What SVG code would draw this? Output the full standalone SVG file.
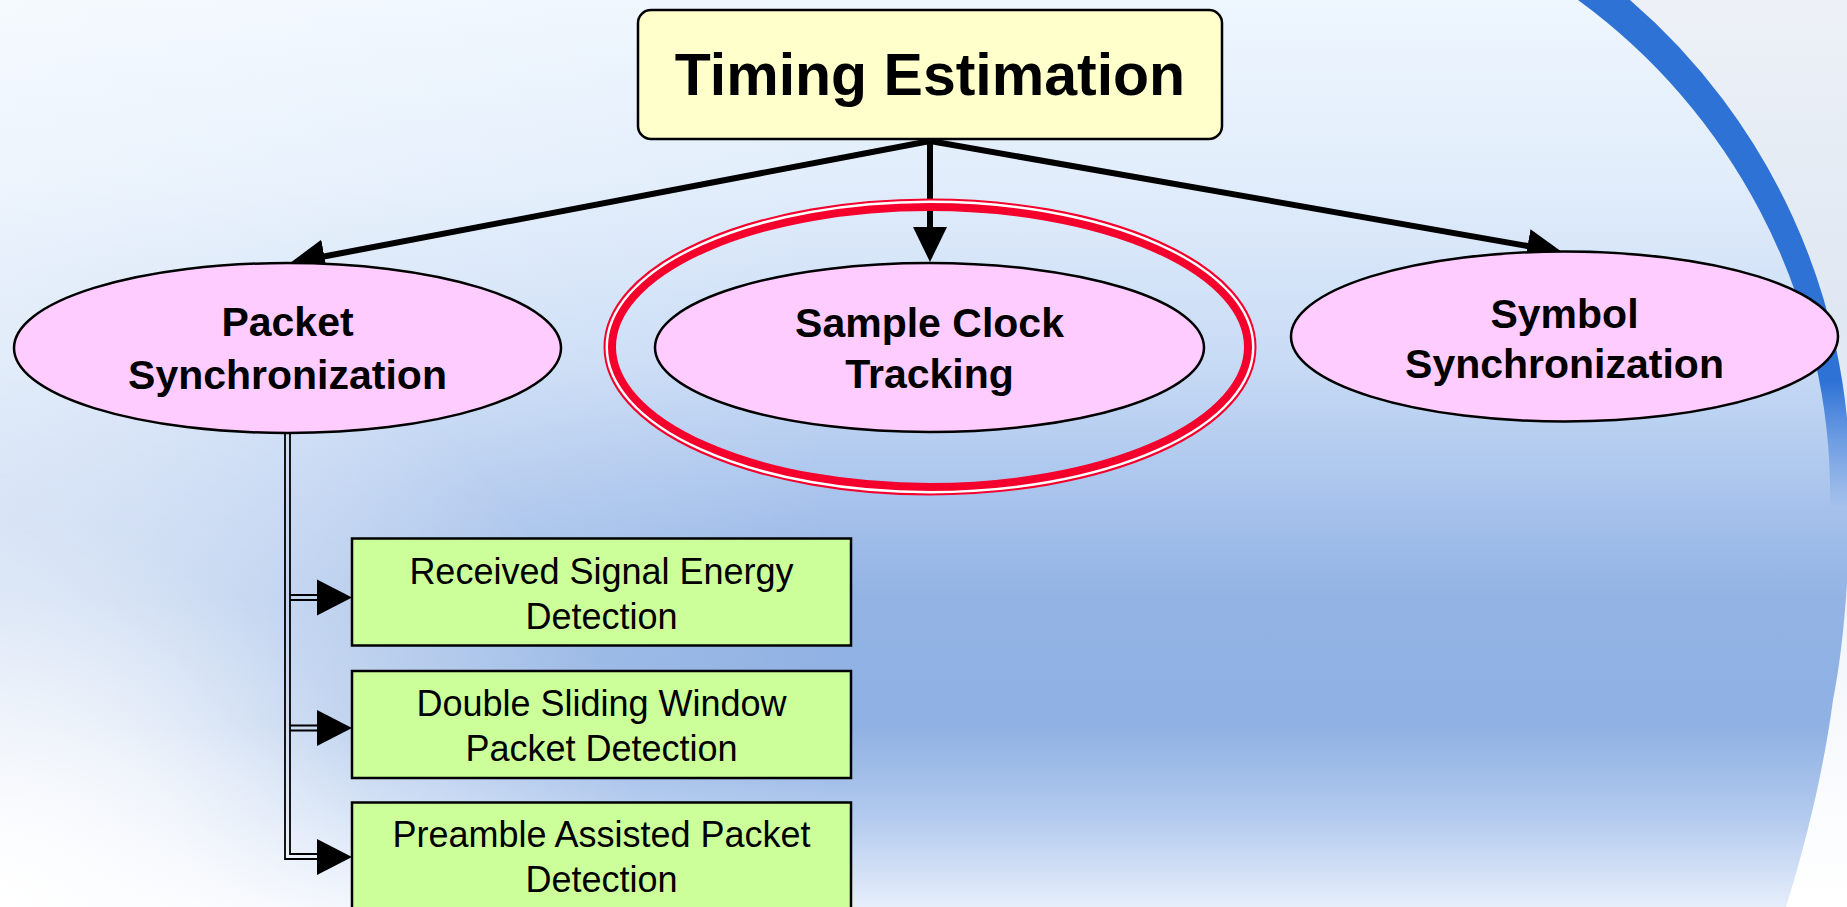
<svg xmlns="http://www.w3.org/2000/svg" width="1847" height="907" viewBox="0 0 1847 907">
  <defs>
    <linearGradient id="bgV" x1="0" y1="0" x2="0" y2="1">
      <stop offset="0" stop-color="#eef6fe"/>
      <stop offset="0.2" stop-color="#e1edfb"/>
      <stop offset="0.4" stop-color="#c8dbf5"/>
      <stop offset="0.55" stop-color="#a8c3ec"/>
      <stop offset="0.66" stop-color="#92b3e4"/>
      <stop offset="0.8" stop-color="#8fb1e3"/>
      <stop offset="0.9" stop-color="#b2caee"/>
      <stop offset="1" stop-color="#e6eefb"/>
    </linearGradient>
    <radialGradient id="bgBL" cx="0" cy="907" r="650" gradientUnits="userSpaceOnUse">
      <stop offset="0" stop-color="#ffffff" stop-opacity="1"/>
      <stop offset="0.3" stop-color="#ffffff" stop-opacity="0.75"/>
      <stop offset="0.6" stop-color="#ffffff" stop-opacity="0.3"/>
      <stop offset="1" stop-color="#ffffff" stop-opacity="0"/>
    </radialGradient>
    <linearGradient id="bgH" x1="0" y1="0" x2="1" y2="0">
      <stop offset="0" stop-color="#ffffff" stop-opacity="0.4"/>
      <stop offset="0.45" stop-color="#ffffff" stop-opacity="0"/>
    </linearGradient>
    <linearGradient id="rightLight" x1="0" y1="0" x2="0" y2="1">
      <stop offset="0" stop-color="#edf1f7"/>
      <stop offset="0.35" stop-color="#dfe7f2"/>
      <stop offset="0.6" stop-color="#eef3fa"/>
      <stop offset="1" stop-color="#ffffff"/>
    </linearGradient>
    <linearGradient id="bandG" x1="0" y1="0" x2="0" y2="907" gradientUnits="userSpaceOnUse">
      <stop offset="0" stop-color="#2e72d6"/>
      <stop offset="0.42" stop-color="#2e72d6"/>
      <stop offset="0.56" stop-color="#2e72d6" stop-opacity="0"/>
    </linearGradient>
    <marker id="arr" markerUnits="userSpaceOnUse" viewBox="0 0 35 34" markerWidth="35" markerHeight="34" refX="10" refY="17" orient="auto">
      <path d="M0,0 L35,17 L0,34 Z" fill="#000"/>
    </marker>
    <style>
      .ell { fill: #ffccff; stroke: #000; stroke-width: 2.5; }
      .box { fill: #ccff99; stroke: #000; stroke-width: 2.5; }
      .top { fill: #ffffcc; stroke: #000; stroke-width: 2.5; }
      .conn { stroke: #000; stroke-width: 6; fill: none; }
      .dbl { stroke: #000; stroke-width: 1.8; fill: none; }
      .head { fill: #000; }
      .tTop { font-family: "Liberation Sans", Arial, sans-serif; font-weight: bold; font-size: 59px; text-anchor: middle; fill: #000; }
      .tEll { font-family: "Liberation Sans", Arial, sans-serif; font-weight: bold; font-size: 41px; text-anchor: middle; fill: #000; }
      .tBox { font-family: "Liberation Sans", Arial, sans-serif; font-size: 36px; text-anchor: middle; fill: #000; }
    </style>
  </defs>

  <!-- background -->
  <rect x="0" y="0" width="1847" height="907" fill="url(#bgV)"/>
  <rect x="0" y="0" width="1847" height="907" fill="url(#bgH)"/>
  <rect x="0" y="0" width="1847" height="907" fill="url(#bgBL)"/>
  <path d="M1630,0 A634,634 0 0 1 1850,480 C1850,560 1845,640 1833,700 C1825,760 1810,830 1786,907 L1847,907 L1847,0 Z" fill="url(#rightLight)"/>
  <path d="M1630,0 A634,634 0 0 1 1850,480 L1850,520 L1830,520 L1830,480 A614,614 0 0 0 1578,0 Z" fill="url(#bandG)"/>

  <!-- connectors -->
  <g id="connectors">
    <path class="conn" d="M930,141 L314.6,258.3" marker-end="url(#arr)"/>
    <path class="conn" d="M930,141 L930,237" marker-end="url(#arr)"/>
    <path class="conn" d="M930,141 L1537.4,247.7" marker-end="url(#arr)"/>
    <path class="dbl" d="M285,433 V859 H320"/>
    <path class="dbl" d="M290,433 V854 H320"/>
    <path class="dbl" d="M290,595 H320 M290,600 H320"/>
    <path class="dbl" d="M290,725.5 H320 M290,730.5 H320"/>
    <polygon class="head" points="352,597.5 317,579.5 317,615.5"/>
    <polygon class="head" points="352,728 317,710 317,746"/>
    <polygon class="head" points="352,857 317,839 317,875"/>
  </g>

  <!-- nodes -->
  <g id="timing-estimation">
    <rect class="top" x="638" y="10" width="584" height="129" rx="13" ry="13"/>
    <text class="tTop" x="930" y="95">Timing Estimation</text>
  </g>

  <g id="packet-sync">
    <ellipse class="ell" cx="287.5" cy="348" rx="273.5" ry="85"/>
    <text class="tEll" x="287.5" y="336">Packet</text>
    <text class="tEll" x="287.5" y="389">Synchronization</text>
  </g>

  <g id="sample-clock-highlight">
    <ellipse cx="930" cy="347" rx="320.25" ry="142.25" fill="none" stroke="#f5002d" stroke-width="12.5"/>
    <ellipse cx="930" cy="347" rx="323.25" ry="145.25" fill="none" stroke="#ffffff" stroke-width="2.5"/>
  </g>

  <g id="sample-clock">
    <ellipse class="ell" cx="929.5" cy="347.5" rx="274.5" ry="84.5"/>
    <text class="tEll" x="929.5" y="337">Sample Clock</text>
    <text class="tEll" x="929.5" y="388">Tracking</text>
  </g>

  <g id="symbol-sync">
    <ellipse class="ell" cx="1564.5" cy="336.5" rx="273.5" ry="85"/>
    <text class="tEll" x="1564.5" y="328">Symbol</text>
    <text class="tEll" x="1564.5" y="378">Synchronization</text>
  </g>

  <g id="received-signal-energy">
    <rect class="box" x="352" y="538.5" width="499" height="107"/>
    <text class="tBox" x="601.5" y="584">Received Signal Energy</text>
    <text class="tBox" x="601.5" y="629">Detection</text>
  </g>

  <g id="double-sliding-window">
    <rect class="box" x="352" y="671" width="499" height="107"/>
    <text class="tBox" x="601.5" y="716">Double Sliding Window</text>
    <text class="tBox" x="601.5" y="761">Packet Detection</text>
  </g>

  <g id="preamble-assisted">
    <rect class="box" x="352" y="802.5" width="499" height="108"/>
    <text class="tBox" x="601.5" y="847">Preamble Assisted Packet</text>
    <text class="tBox" x="601.5" y="892">Detection</text>
  </g>
</svg>
